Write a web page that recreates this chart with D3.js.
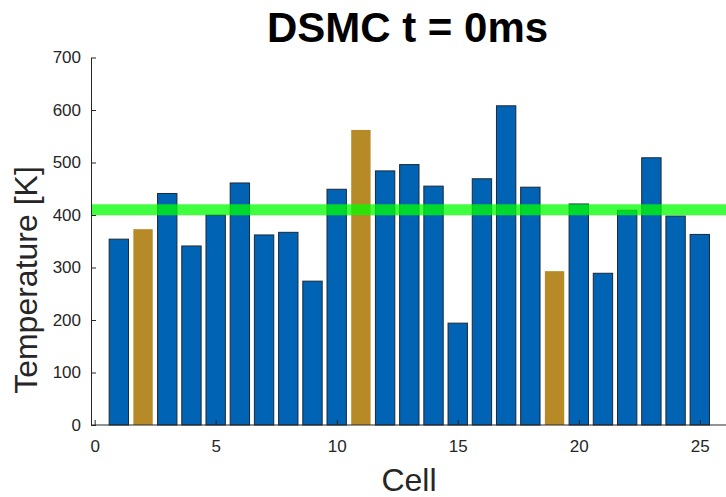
<!DOCTYPE html>
<html>
<head>
<meta charset="utf-8">
<script src="https://cdn.jsdelivr.net/npm/d3@7"></script>
<style>
  html, body { margin: 0; padding: 0; background: #fff; }
  svg { display: block; font-family: "Liberation Sans", Arial, Helvetica, sans-serif; }
</style>
</head>
<body>
<svg id="chart" width="726" height="497"></svg>
<script>
// Cell index and temperature per cell
const cells = [1, 2, 3, 4, 5, 6, 7, 8, 9, 10, 11, 12, 13, 14, 15, 16, 17, 18, 19, 20, 21, 22, 23, 24, 25];
const temperatures = [354, 373, 441, 341, 400, 461, 362, 367, 274, 449, 562, 484, 496, 455, 194, 469, 608, 453, 293, 421, 289, 409, 509, 398, 363];
// Cells drawn in the highlight colour
const highlightCells = [2, 11, 19];
// Mean temperature reference line
const meanTemperature = [410];
const xTicks = [0, 5, 10, 15, 20, 25];
const yTicks = [0, 100, 200, 300, 400, 500, 600, 700];
const titleText = "DSMC t = 0ms";
const xLabel = "Cell";
const yLabel = "Temperature [K]";

const svg = d3.select("#chart");
const plotLeft = 91, plotRight = 724, plotTop = 57.5, plotBottom = 425;
const axisColor = "#262626";

const x = d3.scaleLinear().domain([-0.15, 26]).range([plotLeft, plotRight]);
const y = d3.scaleLinear().domain([0, 700]).range([plotBottom, plotTop]);
const barW = x(0.8) - x(0);

// Bars
const data = cells.map((c, i) => ({ cell: c, t: temperatures[i], hi: highlightCells.includes(c) }));
svg.append("g").selectAll("rect").data(data).join("rect")
  .attr("x", d => x(d.cell) - barW / 2)
  .attr("width", barW)
  .attr("y", d => y(d.t))
  .attr("height", d => y(0) - y(d.t))
  .attr("fill", d => d.hi ? "#b58a27" : "#0063b4")
  .attr("stroke", d => d.hi ? "none" : "#1b2838")
  .attr("stroke-width", 1);

// Mean line
svg.append("g").selectAll("line").data(meanTemperature).join("line")
  .attr("x1", plotLeft).attr("x2", 726)
  .attr("y1", d => y(d)).attr("y2", d => y(d))
  .attr("stroke", "#00ff00")
  .attr("stroke-opacity", 0.75)
  .attr("stroke-width", 11);

// Axes with inward ticks
const yAxis = d3.axisRight(y).tickValues(yTicks).tickSize(5).tickSizeOuter(0).tickFormat(d3.format("d"));
const yg = svg.append("g").attr("transform", `translate(${plotLeft},0)`).call(yAxis);
yg.selectAll("text").attr("x", -10).attr("text-anchor", "end");

const xAxis = d3.axisTop(x).tickValues(xTicks).tickSize(5).tickSizeOuter(0).tickFormat(d3.format("d"));
const xg = svg.append("g").attr("transform", `translate(0,${plotBottom})`).call(xAxis);
xg.selectAll("text").attr("y", 27).attr("dy", 0);

[yg, xg].forEach(g => {
  g.select(".domain").attr("stroke", axisColor).attr("stroke-width", 1);
  g.selectAll(".tick line").attr("stroke", axisColor);
  g.selectAll("text").attr("fill", axisColor).style("font-size", "17px")
    .style("font-family", "'Liberation Sans', Arial, sans-serif");
});
xg.select(".domain").attr("d", `M${plotLeft},0H726`);

// Title and axis labels
svg.append("text").attr("x", (plotLeft + plotRight) / 2).attr("y", 42)
  .attr("text-anchor", "middle").style("font-size", "42px").style("font-weight", "bold")
  .attr("fill", "#000").text(titleText);

svg.append("text").attr("x", 409).attr("y", 491)
  .attr("text-anchor", "middle").style("font-size", "32px")
  .attr("fill", axisColor).text(xLabel);

svg.append("text").attr("transform", "translate(37,280) rotate(-90)")
  .attr("text-anchor", "middle").style("font-size", "32px")
  .attr("fill", axisColor).text(yLabel);
</script>
</body>
</html>
